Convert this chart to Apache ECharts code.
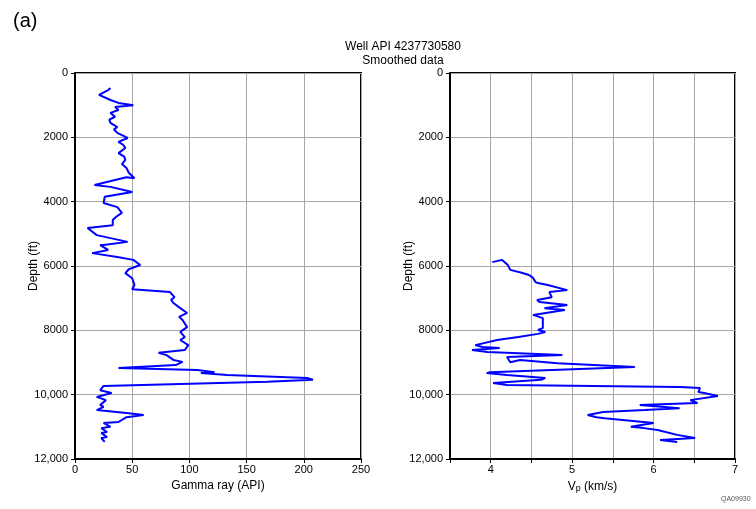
<!DOCTYPE html>
<html>
<head>
<meta charset="utf-8">
<script src="https://cdn.jsdelivr.net/npm/echarts@6/dist/echarts.min.js"></script>
<style>
html,body{margin:0;padding:0;background:#fff;}
#chart{width:756px;height:509px;}
</style>
</head>
<body>
<div id="chart"></div>
<script>
// gamma ray log (API) vs depth (ft)
var gammaDepth = [470,530,680,840,930,1000,1060,1150,1240,1360,1450,1550,1680,1760,1860,2020,2140,2230,2330,2490,2600,2700,2830,2950,3100,3270,3240,3480,3540,3700,3850,4040,4170,4350,4470,4570,4730,4820,5040,5250,5350,5350,5500,5600,5720,5810,5970,6100,6220,6380,6590,6720,6810,6970,7050,7150,7310,7460,7580,7680,7900,8050,8210,8300,8460,8610,8700,8770,8920,8980,9080,9170,9230,9300,9330,9390,9480,9540,9600,9730,9860,9950,10070,10170,10320,10380,10480,10570,10630,10700,10850,10880,11000,11040,11160,11190,11320,11350,11470];
var gammaVal = [31,29,21,31,38,51,35,38,31,35,30,31,37,34,37,46,38,42,44,38,43,44,41,45,47,52,45,17,31,50,26,25,37,41,36,33,33,11,19,46,25,22,29,15,37,51,57,47,44,50,52,50,83,87,84,86,92,98,91,94,98,92,96,92,99,96,73,80,86,94,88,38,107,122,110,133,203,208,168,25,22,32,19,27,22,25,19,45,60,45,38,25,31,23,28,23,28,23,26];

// P-wave velocity (km/s) vs depth (ft)
var vpDepth = [5880,5810,5970,6120,6210,6280,6370,6500,6530,6590,6750,6810,6970,7060,7120,7210,7310,7370,7520,7620,7930,7990,8050,8110,8210,8300,8460,8520,8550,8610,8670,8770,8830,8990,8920,9020,9140,9300,9330,9390,9480,9540,9640,9700,9760,9790,9920,9950,10040,10170,10260,10320,10420,10480,10540,10630,10700,10730,10880,11000,11040,11100,11250,11350,11410,11470];
var vpVal = [4.02,4.14,4.21,4.24,4.38,4.47,4.52,4.55,4.58,4.70,4.94,4.72,4.75,4.57,4.60,4.94,4.66,4.91,4.52,4.64,4.64,4.58,4.67,4.58,4.34,4.08,3.81,3.90,4.11,3.77,3.96,4.88,4.20,4.24,4.36,4.82,5.77,3.99,3.95,4.20,4.67,4.62,4.03,4.20,6.32,6.57,6.55,6.62,6.79,6.45,6.54,5.83,6.32,5.89,5.38,5.19,5.30,5.40,6.00,5.72,5.88,6.05,6.29,6.51,6.08,6.29];

var gammaTicks = [0,50,100,150,200,250];
var vpTicks = [4,5,6,7];
var depthTicks = [0,2000,4000,6000,8000,10000,12000];

var chart = echarts.init(document.getElementById('chart'));
var FONT = 'Liberation Sans';

function pairs(d, v){
	var out = [];
	for (var i = 0; i < d.length; i++) out.push([v[i], d[i]]);
	return out;
}
function depthLabel(v){
	if (v >= 10000) return (v/1000) + ',000';
	return String(v);
}

var yCommon = {
	type:'value', inverse:true, min:depthTicks[0], max:depthTicks[depthTicks.length-1], interval:2000,
	name:'Depth (ft)', nameLocation:'middle', nameGap:35, nameMoveOverlap:false,
	nameTextStyle:{color:'#000', fontSize:12, fontFamily:FONT},
	axisLine:{show:true, lineStyle:{color:'#000', width:2}},
	axisTick:{show:true, length:4, lineStyle:{color:'#000'}},
	axisLabel:{color:'#000', fontSize:11, fontFamily:FONT, formatter:depthLabel, margin:7},
	splitLine:{show:true, lineStyle:{color:'#a8a8a8', width:1}}
};

var option = {
	animation:false,
	backgroundColor:'#fff',
	title:[
		{text:'(a)', left:8, top:6, textStyle:{fontSize:20, fontWeight:'normal', color:'#000', fontFamily:FONT}},
		{text:'Well API 4237730580\nSmoothed data', left:398, top:35, textAlign:'center',
			textStyle:{fontSize:12, fontWeight:'normal', color:'#000', fontFamily:FONT, lineHeight:14}},
		{text:'QA09930', left:716, top:491, textStyle:{fontSize:7, fontWeight:'normal', color:'#555', fontFamily:FONT}}
	],
	grid:[
		{left:75, top:73, width:286, height:386, show:true, borderColor:'#000', borderWidth:2},
		{left:450, top:73, width:285, height:386, show:true, borderColor:'#000', borderWidth:2}
	],
	xAxis:[
		{gridIndex:0, type:'value', min:gammaTicks[0], max:gammaTicks[gammaTicks.length-1], interval:50,
			name:'Gamma ray (API)', nameLocation:'middle', nameGap:21,
			nameTextStyle:{color:'#000', fontSize:12, fontFamily:FONT},
			axisLine:{show:true, onZero:false, lineStyle:{color:'#000', width:2}},
			axisTick:{show:true, length:4, lineStyle:{color:'#000'}},
			axisLabel:{color:'#000', fontSize:11, fontFamily:FONT, margin:5},
			splitLine:{show:true, lineStyle:{color:'#a8a8a8', width:1}}},
		{gridIndex:1, type:'value', min:3.5, max:vpTicks[vpTicks.length-1], interval:0.5,
			name:'{a|V}{b|p}{a| (km/s)}', nameLocation:'middle', nameGap:21,
			nameTextStyle:{color:'#000', fontSize:12, fontFamily:FONT,
				rich:{a:{fontSize:12, fontFamily:FONT, color:'#000'}, b:{fontSize:9, fontFamily:FONT, color:'#000', verticalAlign:'bottom', padding:[4,0,0,0]}}},
			axisLine:{show:true, onZero:false, lineStyle:{color:'#000', width:2}},
			axisTick:{show:true, length:4, lineStyle:{color:'#000'}},
			axisLabel:{color:'#000', fontSize:11, fontFamily:FONT, margin:5,
				formatter:function(v){ return vpTicks.indexOf(v) >= 0 ? String(v) : ''; }},
			splitLine:{show:true, lineStyle:{color:'#a8a8a8', width:1}}}
	],
	yAxis:[
		Object.assign({gridIndex:0}, yCommon),
		Object.assign({gridIndex:1}, yCommon)
	],
	series:[
		{type:'line', xAxisIndex:0, yAxisIndex:0, data:pairs(gammaDepth, gammaVal),
			showSymbol:false, lineStyle:{color:'#0000ff', width:2}},
		{type:'line', xAxisIndex:1, yAxisIndex:1, data:pairs(vpDepth, vpVal),
			showSymbol:false, lineStyle:{color:'#0000ff', width:2}}
	]
};
chart.setOption(option);
</script>
</body>
</html>
